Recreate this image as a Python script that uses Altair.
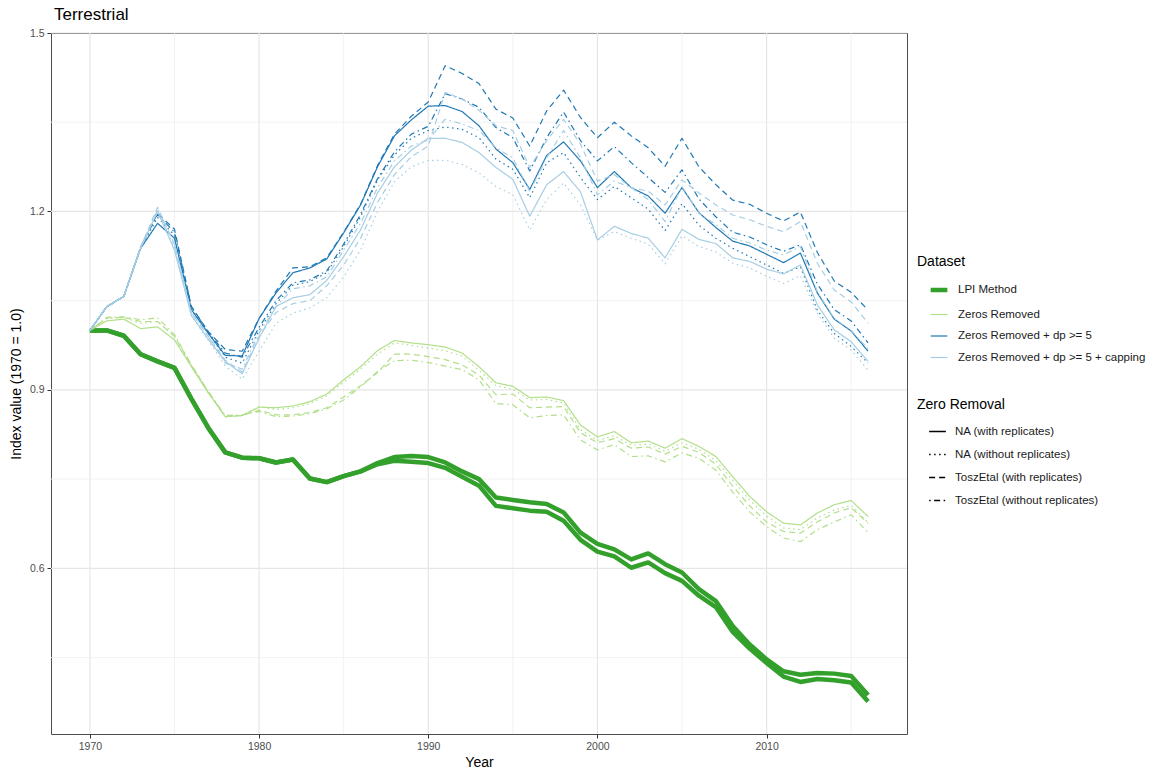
import altair as alt
import pandas as pd

# ---- data -------------------------------------------------------------
years = list(range(1970, 2017))

datasets = ["LPI Method", "Zeros Removed", "Zeros Removed + dp >= 5",
            "Zeros Removed + dp >= 5 + capping"]
dataset_colors = ["#33a02c", "#b2df8a", "#1f78b4", "#a6cee3"]

removals = ["NA (with replicates)", "NA (without replicates)",
            "ToszEtal (with replicates)", "ToszEtal (without replicates)"]

# LPI Method (both zero-removal options give the same index)
lpi_with_reps = [1.0, 1.0, 0.991, 0.96, 0.948, 0.937, 0.885, 0.836, 0.795, 0.786,
                 0.785, 0.778, 0.783, 0.751, 0.745, 0.755, 0.763, 0.777, 0.787, 0.789,
                 0.787, 0.778, 0.763, 0.75, 0.719, 0.715, 0.711, 0.708, 0.694, 0.66,
                 0.641, 0.632, 0.615, 0.625, 0.607, 0.593, 0.565, 0.545, 0.503, 0.472,
                 0.447, 0.427, 0.421, 0.424, 0.423, 0.419, 0.387]
lpi_without_reps = [1.0, 1.0, 0.991, 0.96, 0.948, 0.937, 0.885, 0.836, 0.795, 0.786,
                    0.785, 0.778, 0.783, 0.751, 0.745, 0.755, 0.763, 0.775, 0.781, 0.779,
                    0.777, 0.769, 0.754, 0.739, 0.705, 0.701, 0.697, 0.695, 0.68, 0.648,
                    0.628, 0.62, 0.601, 0.61, 0.592, 0.579, 0.554, 0.535, 0.493, 0.465,
                    0.441, 0.418, 0.409, 0.414, 0.412, 0.408, 0.376]

# Zeros Removed
zr_na_rep = [1.0, 1.016, 1.019, 1.003, 1.006, 0.984, 0.939, 0.895, 0.855, 0.857,
             0.871, 0.87, 0.873, 0.88, 0.893, 0.917, 0.939, 0.966, 0.983, 0.979,
             0.976, 0.972, 0.962, 0.939, 0.912, 0.906, 0.887, 0.888, 0.882, 0.841,
             0.821, 0.83, 0.811, 0.814, 0.802, 0.818, 0.805, 0.788, 0.754, 0.721,
             0.695, 0.676, 0.673, 0.693, 0.707, 0.714, 0.687]
zr_na_norep = [1.0, 1.02, 1.022, 1.012, 1.015, 0.99, 0.94, 0.895, 0.855, 0.857,
               0.872, 0.867, 0.87, 0.877, 0.89, 0.913, 0.935, 0.96, 0.979, 0.975,
               0.97, 0.966, 0.957, 0.933, 0.907, 0.901, 0.883, 0.884, 0.878, 0.833,
               0.815, 0.823, 0.807, 0.809, 0.797, 0.811, 0.8, 0.781, 0.748, 0.715,
               0.688, 0.668, 0.665, 0.685, 0.698, 0.706, 0.677]
zr_tosz_rep = [1.0, 1.021, 1.022, 1.015, 1.015, 0.99, 0.942, 0.897, 0.855, 0.857,
               0.866, 0.858, 0.858, 0.862, 0.87, 0.888, 0.907, 0.929, 0.96, 0.96,
               0.956, 0.951, 0.942, 0.925, 0.892, 0.893, 0.87, 0.871, 0.872, 0.828,
               0.811, 0.818, 0.802, 0.804, 0.792, 0.805, 0.795, 0.775, 0.738, 0.705,
               0.678, 0.662, 0.659, 0.678, 0.693, 0.702, 0.676]
zr_tosz_norep = [1.0, 1.022, 1.023, 1.018, 1.021, 0.993, 0.942, 0.897, 0.857, 0.858,
                 0.864, 0.855, 0.856, 0.86, 0.868, 0.883, 0.905, 0.931, 0.949, 0.95,
                 0.946, 0.94, 0.934, 0.917, 0.877, 0.875, 0.853, 0.857, 0.858, 0.816,
                 0.799, 0.808, 0.788, 0.789, 0.779, 0.794, 0.785, 0.765, 0.728, 0.695,
                 0.67, 0.651, 0.645, 0.665, 0.678, 0.69, 0.66]

# Zeros Removed + dp >= 5
dp_na_rep = [1.0, 1.04, 1.057, 1.138, 1.18, 1.155, 1.035, 0.995, 0.958, 0.957,
             1.02, 1.063, 1.097, 1.105, 1.12, 1.164, 1.211, 1.275, 1.327, 1.354,
             1.377, 1.378, 1.368, 1.344, 1.305, 1.282, 1.237, 1.294, 1.317, 1.285,
             1.24, 1.267, 1.24, 1.226, 1.197, 1.24, 1.198, 1.173, 1.15, 1.142,
             1.128, 1.114, 1.13, 1.063, 1.019, 0.999, 0.965]
dp_na_norep = [1.0, 1.04, 1.057, 1.138, 1.19, 1.16, 1.035, 0.995, 0.955, 0.945,
               1.0, 1.045, 1.076, 1.082, 1.097, 1.141, 1.191, 1.253, 1.295, 1.323,
               1.336, 1.342, 1.338, 1.324, 1.288, 1.271, 1.223, 1.282, 1.299, 1.257,
               1.22, 1.242, 1.223, 1.204, 1.168, 1.213, 1.177, 1.155, 1.138, 1.124,
               1.11, 1.096, 1.107, 1.034, 0.995, 0.973, 0.945]
dp_tosz_rep = [1.0, 1.04, 1.057, 1.14, 1.197, 1.17, 1.04, 0.998, 0.968, 0.965,
               1.02, 1.066, 1.105, 1.107, 1.122, 1.165, 1.212, 1.277, 1.33, 1.36,
               1.384, 1.445, 1.432, 1.415, 1.372, 1.357, 1.31, 1.369, 1.404, 1.358,
               1.324, 1.35, 1.327, 1.307, 1.276, 1.323, 1.275, 1.245, 1.219, 1.212,
               1.197, 1.184, 1.199, 1.131, 1.083, 1.064, 1.034]
dp_tosz_norep = [1.0, 1.04, 1.057, 1.14, 1.195, 1.165, 1.04, 0.997, 0.962, 0.955,
                 1.005, 1.05, 1.08, 1.085, 1.1, 1.145, 1.195, 1.255, 1.3, 1.33,
                 1.343, 1.398, 1.389, 1.375, 1.341, 1.324, 1.268, 1.324, 1.367, 1.319,
                 1.285, 1.309, 1.282, 1.257, 1.232, 1.27, 1.221, 1.191, 1.165, 1.157,
                 1.144, 1.133, 1.144, 1.078, 1.035, 1.016, 0.979]

# Zeros Removed + dp >= 5 + capping
cap_na_rep = [1.0, 1.04, 1.057, 1.138, 1.2, 1.135, 1.025, 0.985, 0.948, 0.927,
              0.987, 1.04, 1.055, 1.06, 1.084, 1.124, 1.169, 1.231, 1.275, 1.303,
              1.323, 1.323, 1.316, 1.299, 1.274, 1.254, 1.192, 1.245, 1.267, 1.233,
              1.152, 1.175, 1.163, 1.155, 1.122, 1.17, 1.153, 1.146, 1.122, 1.116,
              1.103, 1.095, 1.11, 1.043, 1.001, 0.981, 0.948]
cap_na_norep = [1.0, 1.04, 1.057, 1.138, 1.205, 1.14, 1.025, 0.983, 0.94, 0.918,
                0.965, 1.012, 1.029, 1.038, 1.055, 1.09, 1.135, 1.2, 1.25, 1.275,
                1.286, 1.286, 1.279, 1.265, 1.242, 1.228, 1.169, 1.22, 1.248, 1.211,
                1.152, 1.166, 1.155, 1.145, 1.112, 1.159, 1.141, 1.132, 1.113, 1.105,
                1.091, 1.079, 1.092, 1.029, 0.987, 0.967, 0.933]
cap_tosz_rep = [1.0, 1.04, 1.057, 1.14, 1.207, 1.145, 1.03, 0.99, 0.95, 0.93,
                0.99, 1.03, 1.045, 1.05, 1.075, 1.11, 1.155, 1.215, 1.262, 1.292,
                1.31, 1.4, 1.389, 1.37, 1.344, 1.336, 1.274, 1.319, 1.355, 1.313,
                1.251, 1.262, 1.24, 1.234, 1.211, 1.253, 1.231, 1.211, 1.194, 1.186,
                1.175, 1.166, 1.183, 1.113, 1.068, 1.048, 1.012]
cap_tosz_norep = [1.0, 1.04, 1.057, 1.14, 1.202, 1.145, 1.03, 0.99, 0.945, 0.935,
                  0.995, 1.04, 1.07, 1.075, 1.09, 1.135, 1.18, 1.24, 1.285, 1.31,
                  1.32, 1.355, 1.347, 1.336, 1.307, 1.29, 1.234, 1.29, 1.336, 1.29,
                  1.228, 1.251, 1.24, 1.22, 1.183, 1.242, 1.197, 1.178, 1.155, 1.147,
                  1.135, 1.127, 1.141, 1.065, 1.02, 1.0, 0.969]

x_major = [1970, 1980, 1990, 2000, 2010]
x_minor = [1975, 1985, 1995, 2005, 2015]
y_major = [0.6, 0.9, 1.2, 1.5]
y_minor = [0.45, 0.75, 1.05, 1.35]

# ---- long tables --------------------------------------------------------
def long_rows(values, dataset, removal):
    return [{"year": y, "value": v, "dataset": dataset, "removal": removal}
            for y, v in zip(years, values)]

lpi_rows = (long_rows(lpi_with_reps, datasets[0], removals[0])
            + long_rows(lpi_without_reps, datasets[0], removals[1]))
lpi_df = pd.DataFrame(lpi_rows)

thin_series = [
    (zr_na_rep, datasets[1], removals[0]), (zr_na_norep, datasets[1], removals[1]),
    (zr_tosz_rep, datasets[1], removals[2]), (zr_tosz_norep, datasets[1], removals[3]),
    (dp_na_rep, datasets[2], removals[0]), (dp_na_norep, datasets[2], removals[1]),
    (dp_tosz_rep, datasets[2], removals[2]), (dp_tosz_norep, datasets[2], removals[3]),
    (cap_na_rep, datasets[3], removals[0]), (cap_na_norep, datasets[3], removals[1]),
    (cap_tosz_rep, datasets[3], removals[2]), (cap_tosz_norep, datasets[3], removals[3]),
]
thin_df = pd.DataFrame([r for s in thin_series for r in long_rows(*s)])

FONT = "Liberation Sans"
x_scale = alt.Scale(domain=[1967.7, 2018.3], nice=False, zero=False)
y_scale = alt.Scale(domain=[0.3215, 1.5], nice=False, zero=False)

color_scale = alt.Scale(domain=datasets, range=dataset_colors)
width_scale = alt.Scale(type="ordinal", domain=datasets, range=[4.5, 1.2, 1.2, 1.2])
dash_scale = alt.Scale(domain=removals,
                       range=[[1, 0], [1.5, 3.5], [6, 4], [1.5, 3.5, 6, 3.5]])

legend_common = dict(orient="none", legendX=866, symbolType="stroke", symbolSize=280,
                     symbolOffset=11, labelOffset=8, labelLimit=320,
                     titlePadding=10, titleFontSize=14, titleFontWeight="normal",
                     labelFontSize=11.5, titleFont=FONT, labelFont=FONT,
                     labelColor="#1a1a1a", titleColor="#000000")
dataset_legend = alt.Legend(title="Dataset", legendY=222, rowPadding=6.5, **legend_common)
removal_legend = alt.Legend(title="Zero Removal", legendY=365, rowPadding=8,
                            symbolStrokeColor="#000000", symbolStrokeWidth=1.6,
                            **legend_common)

x_axis = alt.Axis(values=x_major, format="d", grid=False, domain=False,
                  tickColor="#333333", tickSize=4, labelFontSize=10.5,
                  labelColor="#4d4d4d", labelFont=FONT, labelPadding=3,
                  title="Year", titleFontSize=14, titleFontWeight="normal",
                  titleFont=FONT, titleColor="#000000", titlePadding=4)
y_axis = alt.Axis(values=y_major, format=".1f", grid=False, domain=False,
                  tickColor="#333333", tickSize=4, labelFontSize=10.5,
                  labelColor="#4d4d4d", labelFont=FONT, labelPadding=3,
                  title="Index value (1970 = 1.0)", titleFontSize=14,
                  titleFontWeight="normal", titleFont=FONT, titleColor="#000000",
                  titlePadding=6)

# ---- gridlines ----------------------------------------------------------
vmajor = alt.Chart(pd.DataFrame({"year": x_major})).mark_rule(
    color="#e6e6e6", strokeWidth=1.2).encode(x=alt.X("year:Q", scale=x_scale, axis=x_axis))
vminor = alt.Chart(pd.DataFrame({"year": x_minor})).mark_rule(
    color="#efefef", strokeWidth=0.8).encode(x=alt.X("year:Q", scale=x_scale, axis=x_axis))
hmajor = alt.Chart(pd.DataFrame({"value": y_major})).mark_rule(
    color="#e6e6e6", strokeWidth=1.2).encode(y=alt.Y("value:Q", scale=y_scale, axis=y_axis))
hminor = alt.Chart(pd.DataFrame({"value": y_minor})).mark_rule(
    color="#efefef", strokeWidth=0.8).encode(y=alt.Y("value:Q", scale=y_scale, axis=y_axis))

# ---- index lines --------------------------------------------------------
lpi_lines = alt.Chart(lpi_df).mark_line(strokeCap="butt", strokeJoin="round").encode(
    x=alt.X("year:Q", scale=x_scale, axis=x_axis),
    y=alt.Y("value:Q", scale=y_scale, axis=y_axis),
    color=alt.Color("dataset:N", scale=color_scale, legend=dataset_legend),
    strokeWidth=alt.StrokeWidth("dataset:N", scale=width_scale, legend=dataset_legend),
    detail="removal:N",
)

thin_lines = alt.Chart(thin_df).mark_line(strokeCap="butt", strokeJoin="round").encode(
    x=alt.X("year:Q", scale=x_scale, axis=x_axis),
    y=alt.Y("value:Q", scale=y_scale, axis=y_axis),
    color=alt.Color("dataset:N", scale=color_scale, legend=dataset_legend),
    strokeWidth=alt.StrokeWidth("dataset:N", scale=width_scale, legend=dataset_legend),
    strokeDash=alt.StrokeDash("removal:N", scale=dash_scale, legend=removal_legend),
    detail="removal:N",
)

chart = alt.layer(vminor, vmajor, hminor, hmajor, lpi_lines, thin_lines).properties(
    width=856,
    height=701,
    padding={"left": 51, "top": 33, "right": 253, "bottom": 39},
    autosize=alt.AutoSizeParams(type="none"),
    background="white",
    title=alt.TitleParams("Terrestrial", anchor="start", frame="group", fontSize=17,
                          fontWeight="normal", font=FONT, color="#000000",
                          offset=4, dx=3),
).configure_view(stroke="#4d4d4d", strokeWidth=1)

chart.save("out.html", embed_options={"renderer": "svg", "actions": False})
